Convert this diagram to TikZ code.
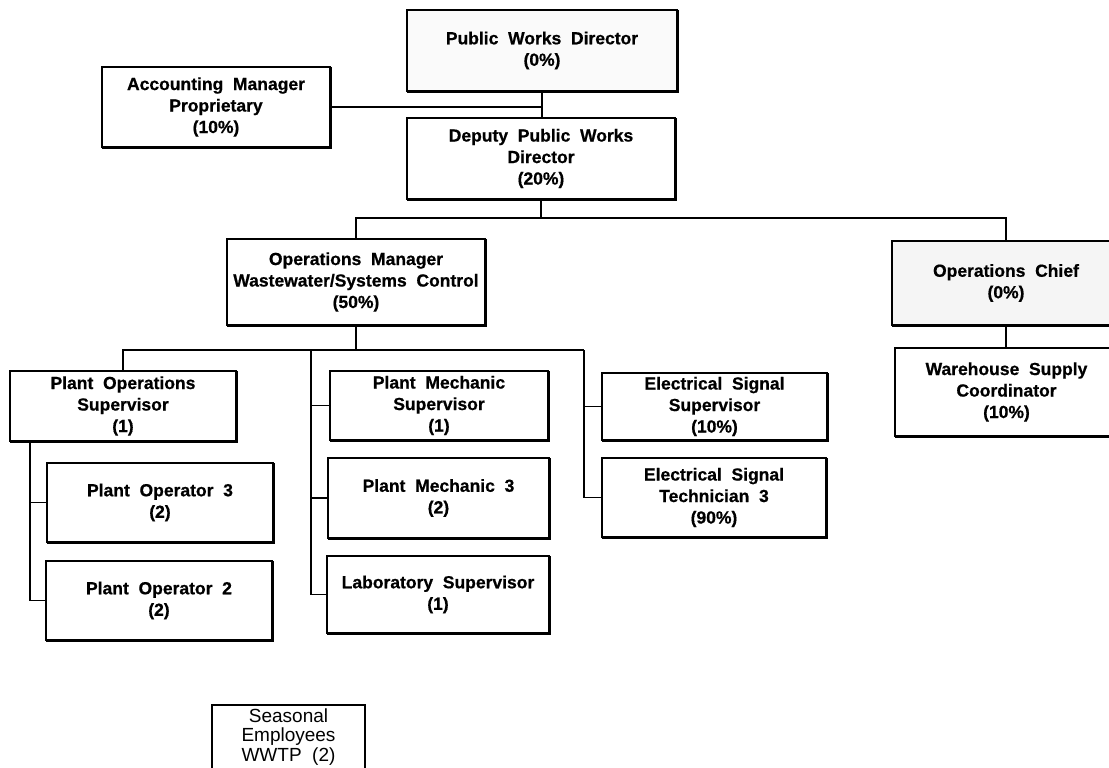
\documentclass[tikz,border=0pt]{standalone}
\usepackage{fontspec}
\setmainfont{Liberation Sans}
\newfontfamily\chartfont{Liberation Sans}[WordSpace=2.0, BoldFeatures={FakeBold=0.7}]
\begin{document}
\begin{tikzpicture}[x=1pt,y=-1pt,
  every node/.style={inner sep=0pt, outer sep=0pt},
  orgbox/.style={draw, line width=1.3pt, align=center,
    font=\chartfont\bfseries\fontsize{17.5}{21.5}\selectfont,
    append after command={\pgfextra{%
      \draw[line width=2.6pt]
        ([shift={(0.8pt,0pt)}]\tikzlastnode.north east)
        -- ([shift={(0.8pt,-0.8pt)}]\tikzlastnode.south east)
        -- ([shift={(0pt,-0.8pt)}]\tikzlastnode.south west);}}},
  plainbox/.style={draw, line width=1.2pt, align=center,
    font=\chartfont\fontsize{19}{19.5}\selectfont},
  link/.style={line width=1.4pt}]

\useasboundingbox (0,0) rectangle (1109,768);

% top of the chart
\node[orgbox, fill=gray!4, minimum width=270pt, minimum height=81pt] (pwd) at (542,50.5)
  {Public Works Director\\(0\%)};
\node[orgbox, minimum width=228pt, minimum height=80pt] (acct) at (216,107)
  {Accounting Manager\\Proprietary\\(10\%)};
\node[orgbox, minimum width=268pt, minimum height=81pt] (dep) at (541,158.5)
  {Deputy Public Works\\Director\\(20\%)};

% second level
\node[orgbox, minimum width=258pt, minimum height=86pt] (opm) at (356,282)
  {Operations Manager\\Wastewater/Systems Control\\(50\%)};
\node[orgbox, fill=gray!8, minimum width=228pt, minimum height=84pt] (chief) at (1006,283)
  {Operations Chief\\(0\%)};
\node[orgbox, minimum width=223pt, minimum height=88pt] (wh) at (1006.5,392)
  {Warehouse Supply\\Coordinator\\(10\%)};

% supervisors
\node[orgbox, minimum width=226pt, minimum height=70pt] (pos) at (123,406)
  {Plant Operations\\Supervisor\\(1)};
\node[orgbox, minimum width=218pt, minimum height=69pt] (pms) at (439,405.5)
  {Plant Mechanic\\Supervisor\\(1)};
\node[orgbox, minimum width=225pt, minimum height=67pt] (es) at (714.5,406.5)
  {Electrical Signal\\Supervisor\\(10\%)};

% staff
\node[orgbox, minimum width=226pt, minimum height=79pt] (po3) at (160,502.5)
  {Plant Operator 3\\(2)};
\node[orgbox, minimum width=226pt, minimum height=79pt] (po2) at (159,600.5)
  {Plant Operator 2\\(2)};
\node[orgbox, minimum width=221pt, minimum height=80pt] (pm3) at (438.5,498)
  {Plant Mechanic 3\\(2)};
\node[orgbox, minimum width=222pt, minimum height=77pt] (lab) at (438,594.5)
  {Laboratory Supervisor\\(1)};
\node[orgbox, minimum width=224pt, minimum height=79pt] (et) at (714,497.5)
  {Electrical Signal\\Technician 3\\(90\%)};

% seasonal staff
\node[plainbox, minimum width=153pt, minimum height=64pt] (seas) at (288.5,737)
  {Seasonal\\Employees\\WWTP (2)};

% junction points
\coordinate (busA) at (541,218);
\coordinate (busB) at (356,350);
\coordinate (mTrunk) at (311,350);
\coordinate (eTrunk) at (584,350);
\coordinate (oTrunk) at (30,441);

% connectors
\draw[link] (pwd.south) -- (pwd.south |- dep.north);
\draw[link] (acct.east) -- (acct.east -| pwd.south);
\draw[link] (dep.south) -- (busA);
\draw[link] (opm.north) |- (busA) -| (chief.north);
\draw[link] (chief.south) -- (chief.south |- wh.north);
\draw[link] (opm.south) -- (busB);
\draw[link] (pos.north) |- (eTrunk);
\draw[link] (eTrunk) |- (et.west);
\draw[link] (es.west) -- (es.west -| eTrunk);
\draw[link] (mTrunk) |- (lab.west);
\draw[link] (pms.west) -- (pms.west -| mTrunk);
\draw[link] (pm3.west) -- (pm3.west -| mTrunk);
\draw[link] (oTrunk) |- (po2.west);
\draw[link] (po3.west) -- (po3.west -| oTrunk);
\end{tikzpicture}
\end{document}
